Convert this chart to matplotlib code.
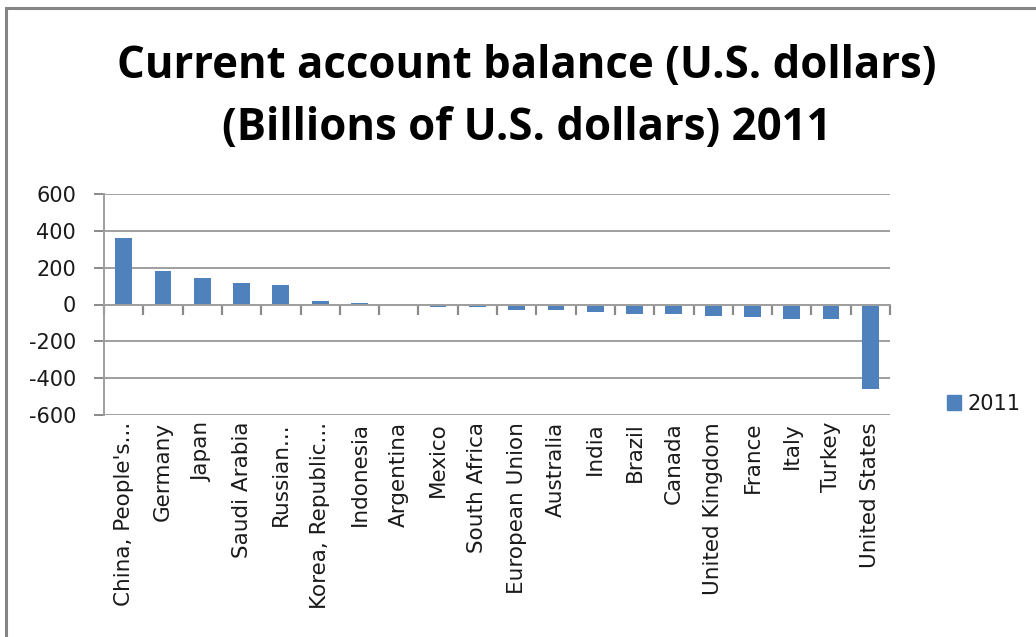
import numpy as np
import matplotlib
matplotlib.use("Agg")
import matplotlib.pyplot as plt
from matplotlib.patches import Rectangle, Patch

## Current account balance by country, 2011 (billions of USD)
countries = ["China, People's...", "Germany", "Japan", "Saudi Arabia", "Russian...",
             "Korea, Republic...", "Indonesia", "Argentina", "Mexico", "South Africa",
             "European Union", "Australia", "India", "Brazil", "Canada",
             "United Kingdom", "France", "Italy", "Turkey", "United States"]
balance = [361, 183, 143, 115, 107,
           18, 10, -1, -11, -11,
           -32, -32, -39, -54, -54,
           -63, -70, -77, -77, -457]
yticks = [-600, -400, -200, 0, 200, 400, 600]
series_name = "2011"

bar_color = "#4f81bd"
grid_color = "#9f9f9f"
tick_color = "#8a8a8a"
text_color = "#1a1a1a"

plt.rcParams['font.family'] = ['DejaVu Sans']

fig = plt.figure(figsize=(10.36, 6.37), dpi=100)
ax = fig.add_axes([104/1036, 1 - 415/637, 786/1036, 221/637])

x = np.arange(len(countries))
ax.bar(x, balance, width=0.43, color=bar_color, zorder=3)

ax.set_xlim(-0.5, len(countries) - 0.5)
ax.set_ylim(yticks[0], yticks[-1])
ax.set_yticks(yticks)
ax.set_yticklabels([str(v) for v in yticks], fontsize=15, color=text_color)
ax.tick_params(axis='y', length=7, width=1.4, color=tick_color, pad=13)
ax.grid(axis='y', color=grid_color, linewidth=1.4, zorder=0)

# category axis line runs through zero, with ticks between categories
ax.spines['bottom'].set_position(('data', 0))
ax.spines['bottom'].set_color(grid_color)
ax.spines['bottom'].set_linewidth(1.4)
ax.spines['bottom'].set_zorder(4)
ax.set_xticks(np.arange(len(countries) + 1) - 0.5)
ax.set_xticklabels([])
ax.tick_params(axis='x', length=7, width=1.6, color=tick_color, direction='out')

for side in ['top', 'right']:
    ax.spines[side].set_visible(False)
ax.spines['left'].set_color(grid_color)
ax.spines['left'].set_linewidth(1.4)

# category labels sit at the bottom of the plot, rotated
labels_axis = ax.secondary_xaxis('bottom')
labels_axis.set_xticks(x)
labels_axis.set_xticklabels(countries, rotation=90, fontsize=15.5, color=text_color)
labels_axis.tick_params(length=0, pad=5)
labels_axis.spines['bottom'].set_visible(False)

title_font = dict(ha='center', va='baseline', fontsize=31.5, fontweight='bold',
                  color="black", family="Open Sans")
fig.text(527/1036, 1 - 78/637, "Current account balance (U.S. dollars)", **title_font)
fig.text(527/1036, 1 - 140/637, "(Billions of U.S. dollars) 2011", **title_font)

leg = fig.legend(handles=[Patch(color=bar_color, label=series_name)],
                 loc='center left', bbox_to_anchor=(928/1036, 1 - 404/637),
                 frameon=False, fontsize=15, handlelength=0.7, handleheight=0.7,
                 handletextpad=0.3, labelcolor=text_color)

# chart border
fig.patches.append(Rectangle((6/1036, -0.05), 1.1, 1 - 8/637 + 0.05,
                             transform=fig.transFigure, fill=False,
                             edgecolor="#858585", linewidth=2.2))

fig.savefig("out.png", dpi=100, facecolor="white")
